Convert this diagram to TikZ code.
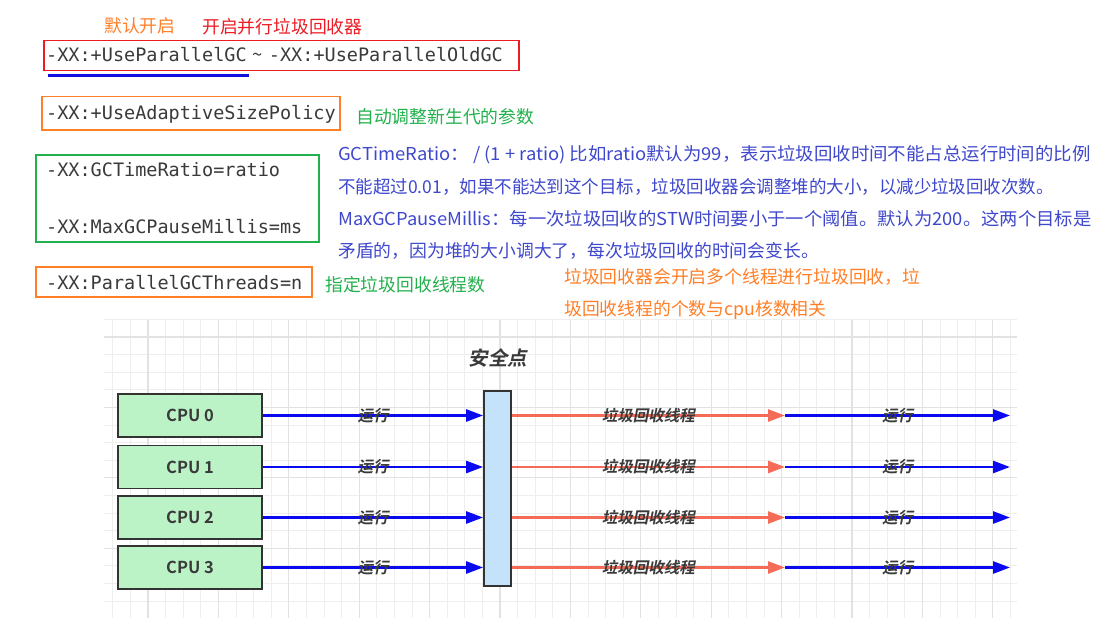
\documentclass[tikz,border=0pt]{standalone}
\usepackage{fontspec}
\setmainfont{Noto Sans CJK SC}
\newfontfamily\monofont{DejaVu Sans Mono}
\newfontfamily\cjkbold{Noto Sans CJK SC Bold}
\newfontfamily\cjkslant{Noto Sans CJK SC Bold}[FakeSlant=0.2]
\usepackage{tikz}
\usetikzlibrary{arrows.meta}
\usepackage{xcolor}

\definecolor{cRed}{HTML}{ED1C24}
\definecolor{cOrange}{HTML}{FF7F27}
\definecolor{cGreen}{HTML}{22B14C}
\definecolor{cNote}{HTML}{3F48CC}
\definecolor{cUline}{HTML}{1010E0}
\definecolor{cText}{HTML}{3A3A3A}
\definecolor{cEdge}{HTML}{333333}
\definecolor{cCpu}{HTML}{BBF2C6}
\definecolor{cBar}{HTML}{C4E2FA}
\definecolor{cRun}{HTML}{0A0AF0}
\definecolor{cGc}{HTML}{F46B57}
\definecolor{cGrid}{HTML}{EEEEEE}
\definecolor{cGridMajor}{HTML}{E2E2E2}

\tikzset{
  gridline/.style={draw=cGrid, line width=0.8pt},
  gridmajor/.style={draw=cGridMajor, line width=1.1pt},
  optbox/.style={draw, line width=1.2pt, inner sep=0pt},
  opttext/.style={anchor=base west, inner sep=0pt, text=cText, font=\monofont\fontsize{18.5}{22}\selectfont},
  notetext/.style={anchor=west, inner sep=0pt, font=\fontsize{17.8}{20}\selectfont},
  cpubox/.style={draw=cEdge, fill=cCpu, line width=1.8pt, minimum width=144pt, minimum height=43pt, text=cText, font=\cjkbold\fontsize{16.5}{18}\selectfont},
  safebar/.style={draw=cEdge, fill=cBar, line width=1.8pt, minimum width=27pt, minimum height=195pt},
  steplabel/.style={inner sep=0pt, text=cText, font=\cjkslant\fontsize{15.5}{17}\selectfont},
  runarrow/.style={draw=cRun, line width=2.6pt, -{Triangle[length=17pt,width=12pt]}},
  gcarrow/.style={draw=cGc, line width=2.6pt, -{Triangle[length=17pt,width=12pt]}},
}

\begin{document}
\begin{tikzpicture}[x=1pt,y=-1pt]
\useasboundingbox[fill=white] (0,0) rectangle (1115,636);

% JVM options in boxes
\node[optbox, draw=cRed, minimum width=475pt, minimum height=29.6pt] (boxgc) at (281.5,55.5) {};
\node[opttext] (optgc) at (46,62) {-XX:+UseParallelGC\hspace{6pt}{\rmfamily\textasciitilde}\hspace{6pt}-XX:+UseParallelOldGC};
\draw[line width=3pt, cUline] (47.5,75.7) -- (249,75.7);

\node[optbox, draw=cOrange, minimum width=298pt, minimum height=33.3pt] (boxadapt) at (191,113.3) {};
\node[opttext] (optadapt) at (46,119.5) {-XX:+UseAdaptiveSizePolicy};

\node[optbox, draw=cGreen, minimum width=283pt, minimum height=87pt] (boxgoal) at (177.5,198.5) {};
\node[opttext] (optratio) at (46,176.5) {-XX:GCTimeRatio=ratio};
\node[opttext] (optpause) at (46,233.5) {-XX:MaxGCPauseMillis=ms};

\node[optbox, draw=cOrange, minimum width=276pt, minimum height=30pt] (boxthreads) at (174,282) {};
\node[opttext] (optthreads) at (46,289.5) {-XX:ParallelGCThreads=n};

% notes
\node[notetext, text=cOrange] (notedefault) at (104,25.5) {默认开启};
\node[notetext, text=cRed] (noteparallel) at (202,26.5) {开启并行垃圾回收器};
\node[notetext, text=cGreen] (noteadapt) at (356,117) {自动调整新生代的参数};
\node[notetext, text=cGreen] (notethreads) at (325,285) {指定垃圾回收线程数};

\node[notetext, text=cNote] (goal1) at (338,155) {\scalebox{1.035}[1]{GCTimeRatio： / (1 + ratio) 比如ratio默认为99，表示垃圾回收时间不能占总运行时间的比例}};
\node[notetext, text=cNote] (goal2) at (338,187) {\scalebox{0.982}[1]{不能超过0.01，如果不能达到这个目标，垃圾回收器会调整堆的大小，以减少垃圾回收次数。}};
\node[notetext, text=cNote] (goal3) at (338,219) {\scalebox{1.03}[1]{MaxGCPauseMillis：每一次垃圾回收的STW时间要小于一个阈值。默认为200。这两个目标是}};
\node[notetext, text=cNote] (goal4) at (338,251) {矛盾的，因为堆的大小调大了，每次垃圾回收的时间会变长。};

\node[notetext, text=cOrange] (cpunote1) at (564,277) {垃圾回收器会开启多个线程进行垃圾回收，垃};
\node[notetext, text=cOrange] (cpunote2) at (564,310) {圾回收线程的个数与cpu核数相关};

% grid behind the diagram
\foreach \k in {-2,...,49} \draw[gridline] ({148+17.6*\k},320) -- ({148+17.6*\k},618);
\foreach \k in {-1,...,15} \draw[gridline] (104,{337+17.6*\k}) -- (1017,{337+17.6*\k});
\foreach \k in {0,4,...,48} \draw[gridmajor] ({148+17.6*\k},320) -- ({148+17.6*\k},618);
\foreach \k in {0,4,...,12} \draw[gridmajor] (104,{337+17.6*\k}) -- (1017,{337+17.6*\k});

% safepoint
\node[safebar] (bar) at (497.5,488.5) {};
\node[steplabel, font=\cjkslant\fontsize{19.5}{21}\selectfont] (safelabel) at (498,358) {安全点};

% cpu rows
\foreach \i/\y in {0/415.5,1/467,2/517.5,3/567.5} {
  \node[cpubox] (cpu\i) at (190,\y) {CPU \i};
  \coordinate (gc\i) at (785,\y);
  \coordinate (end\i) at (1010,\y);
  \draw[runarrow] (cpu\i.east) -- node[steplabel] {运行} (bar.west |- cpu\i.east);
  \draw[gcarrow] (bar.east |- cpu\i.east) -- node[steplabel] {垃圾回收线程} (gc\i);
  \draw[runarrow] (gc\i) -- node[steplabel] {运行} (end\i);
}

\end{tikzpicture}
\end{document}
